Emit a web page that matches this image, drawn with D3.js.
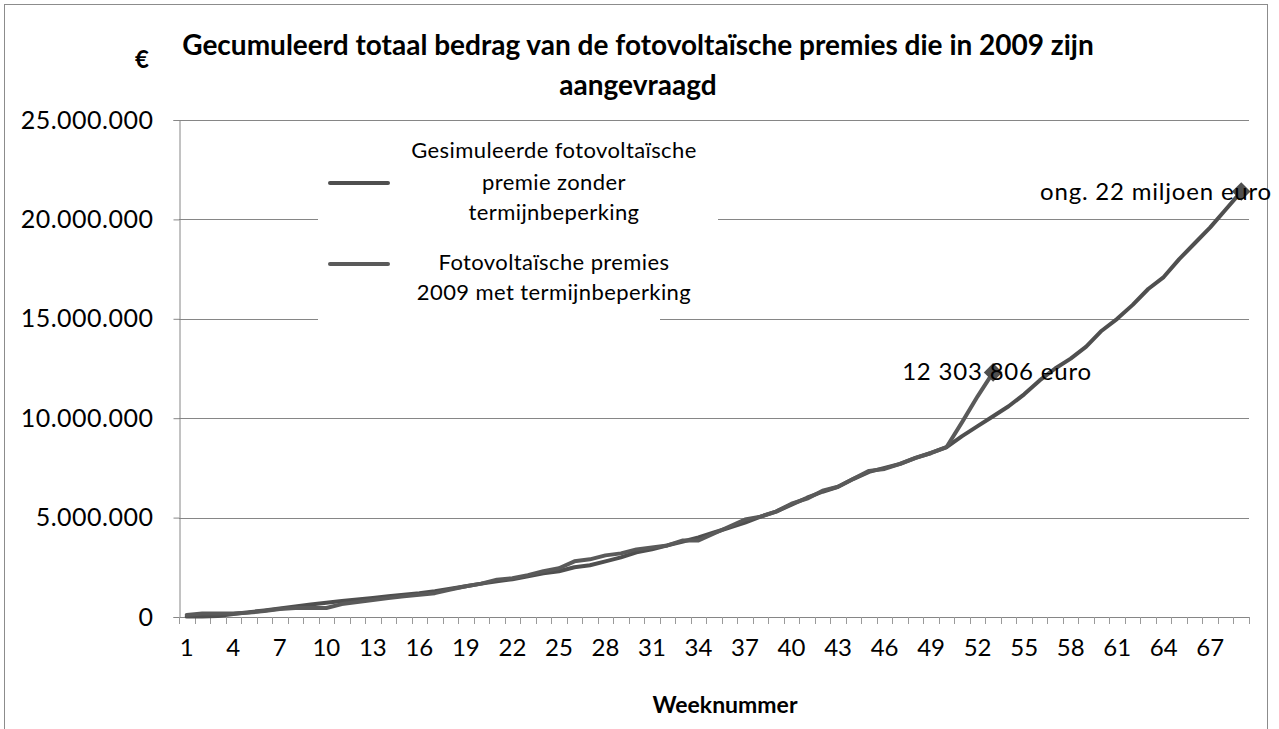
<!DOCTYPE html>
<html>
<head>
<meta charset="utf-8">
<script src="https://cdn.jsdelivr.net/npm/d3@7"></script>
<style>
  body { margin: 0; background: #fff; }
  svg text { font-family: Lato, "Open Sans", sans-serif; fill: #000; }
</style>
</head>
<body>
<svg id="chart" width="1279" height="729"></svg>
<script>
// Weeks (categories)
const weeks = [1, 2, 3, 4, 5, 6, 7, 8, 9, 10, 11, 12, 13, 14, 15, 16, 17, 18, 19, 20,
  21, 22, 23, 24, 25, 26, 27, 28, 29, 30, 31, 32, 33, 34, 35, 36, 37, 38, 39, 40,
  41, 42, 43, 44, 45, 46, 47, 48, 49, 50, 51, 52, 53, 54, 55, 56, 57, 58, 59, 60,
  61, 62, 63, 64, 65, 66, 67, 68, 69];

// Simulated premium without term limit (millions of euro)
const simulated = [0.02, 0.03, 0.05, 0.15, 0.24, 0.33, 0.43, 0.53, 0.63, 0.72,
  0.8, 0.88, 0.96, 1.04, 1.12, 1.2, 1.3, 1.42, 1.55, 1.68,
  1.8, 1.9, 2.05, 2.2, 2.3, 2.5, 2.6, 2.8, 3.0, 3.25,
  3.4, 3.6, 3.8, 4.0, 4.25, 4.5, 4.75, 5.05, 5.3, 5.65,
  6.0, 6.3, 6.55, 6.95, 7.3, 7.5, 7.7, 8.0, 8.25, 8.55,
  9.1, 9.6, 10.1, 10.6, 11.2, 11.9, 12.5, 13.0, 13.6, 14.4,
  15.0, 15.7, 16.5, 17.1, 18.0, 18.8, 19.6, 20.5, 21.4];

// 2009 premiums with term limit (millions of euro)
const actual = [0.1, 0.18, 0.18, 0.17, 0.22, 0.3, 0.4, 0.45, 0.45, 0.45,
  0.65, 0.75, 0.85, 0.95, 1.04, 1.12, 1.2, 1.38, 1.55, 1.68,
  1.88, 1.95, 2.1, 2.3, 2.45, 2.8, 2.9, 3.1, 3.2, 3.4,
  3.5, 3.6, 3.85, 3.85, 4.2, 4.55, 4.9, 5.05, 5.3, 5.7,
  5.95, 6.35, 6.55, 6.95, 7.35, 7.45, 7.7, 8.0, 8.25, 8.55,
  9.8, 11.1, 12.303806];

const yTicks = [0, 5, 10, 15, 20, 25];
const xLabels = [1, 4, 7, 10, 13, 16, 19, 22, 25, 28, 31, 34, 37, 40, 43, 46, 49, 52, 55, 58, 61, 64, 67];

const seriesNames = [
  ["Gesimuleerde fotovoltaïsche", "premie zonder", "termijnbeperking"],
  ["Fotovoltaïsche premies", "2009 met termijnbeperking"]
];
const endLabels = ["ong. 22 miljoen euro", "12 303 806 euro"];

const svg = d3.select("#chart");
const plotLeft = 179, plotRight = 1249, plotTop = 120, plotBottom = 617;

const x = d3.scaleBand().domain(weeks).range([plotLeft, plotRight]).padding(0);
const y = d3.scaleLinear().domain([0, 25]).range([plotBottom, plotTop]);
const cx = w => x(w) + x.bandwidth() / 2;

// outer border
svg.append("rect")
  .attr("x", 4.5).attr("y", 4.5)
  .attr("width", 1263).attr("height", 740)
  .attr("fill", "none").attr("stroke", "#8c8c8c");

// title
const title = svg.append("g").style("font-size", "28px").style("font-weight", "bold");
title.append("text")
  .attr("x", 638).attr("y", 55)
  .attr("text-anchor", "middle")
  .text("Gecumuleerd totaal bedrag van de fotovoltaïsche premies die in 2009 zijn");
title.append("text")
  .attr("x", 638).attr("y", 95)
  .attr("text-anchor", "middle")
  .text("aangevraagd");

// y unit
svg.append("text")
  .attr("x", 142).attr("y", 68)
  .attr("text-anchor", "middle")
  .style("font-size", "24px").style("font-weight", "bold")
  .text("€");

// gridlines
svg.append("g")
  .selectAll("line")
  .data(yTicks.filter(d => d > 0))
  .join("line")
  .attr("x1", plotLeft).attr("x2", plotRight)
  .attr("y1", d => Math.round(y(d)) + 0.5).attr("y2", d => Math.round(y(d)) + 0.5)
  .attr("stroke", "#868686");

// y axis
const fmt = d => d === 0 ? "0" : d3.format(",")(d * 1e6).replace(/,/g, ".");
const yAxis = svg.append("g")
  .attr("transform", `translate(${plotLeft + 0.5},0)`)
  .call(d3.axisLeft(y).tickValues(yTicks).tickSize(6).tickPadding(20).tickFormat(fmt));
yAxis.select(".domain").attr("stroke", "#868686");
yAxis.selectAll(".tick line").attr("stroke", "#868686");
yAxis.selectAll(".tick text")
  .style("font-size", "25px").style("letter-spacing", "0.5px")
  .style("font-family", "Lato, sans-serif");

// x axis baseline
svg.append("line")
  .attr("x1", plotLeft).attr("x2", plotRight)
  .attr("y1", plotBottom + 0.5).attr("y2", plotBottom + 0.5)
  .attr("stroke", "#868686");

// x tick marks at band edges
svg.append("g")
  .selectAll("line")
  .data(weeks.concat([weeks.length + 1]))
  .join("line")
  .attr("x1", (d, i) => Math.round(plotLeft + i * x.bandwidth()) + 0.5)
  .attr("x2", (d, i) => Math.round(plotLeft + i * x.bandwidth()) + 0.5)
  .attr("y1", plotBottom).attr("y2", plotBottom + 7)
  .attr("stroke", "#9a9a9a");

// x labels
svg.append("g")
  .selectAll("text")
  .data(xLabels)
  .join("text")
  .attr("x", d => cx(d))
  .attr("y", 656)
  .attr("text-anchor", "middle")
  .style("font-size", "24px")
  .text(d => d);

svg.append("text")
  .attr("x", 725).attr("y", 713)
  .attr("text-anchor", "middle")
  .style("font-size", "23px").style("font-weight", "bold")
  .text("Weeknummer");

// legend background (covers gridlines)
svg.append("rect").attr("x", 318).attr("y", 132).attr("width", 400).attr("height", 168).attr("fill", "#fff");
svg.append("rect").attr("x", 318).attr("y", 300).attr("width", 342).attr("height", 24).attr("fill", "#fff");

// lines
const line = d3.line().x((d, i) => cx(weeks[i])).y(d => y(d));
const colors = ["#4f4f4f", "#5a5a5a"];
[simulated, actual].forEach((s, k) => {
  svg.append("path")
    .datum(s)
    .attr("d", line)
    .attr("fill", "none")
    .attr("stroke", colors[k])
    .attr("stroke-width", 4)
    .attr("stroke-linejoin", "round")
    .attr("stroke-linecap", "round");
});

// end markers + labels
const ends = [
  { w: weeks[simulated.length - 1], v: simulated[simulated.length - 1], label: endLabels[0], anchor: "end", xPos: 1272 },
  { w: weeks[actual.length - 1], v: actual[actual.length - 1], label: endLabels[1], anchor: "middle", xPos: 997 }
];
ends.forEach(e => {
  svg.append("path")
    .attr("d", d3.symbol(d3.symbolDiamond2, 220)())
    .attr("transform", `translate(${cx(e.w)},${y(e.v)})`)
    .attr("fill", "#4f4f4f");
});
ends.forEach(e => {
  svg.append("text")
    .attr("x", e.xPos).attr("y", y(e.v) + 8)
    .attr("text-anchor", e.anchor)
    .style("font-size", "24px").style("letter-spacing", "0.8px")
    .text(e.label);
});

// legend entries
const legendY = [183, 264];
const legendTextY = [[158, 190, 220], [270, 300]];
seriesNames.forEach((lines, k) => {
  svg.append("line")
    .attr("x1", 330).attr("x2", 388)
    .attr("y1", legendY[k]).attr("y2", legendY[k])
    .attr("stroke", colors[k]).attr("stroke-width", 4).attr("stroke-linecap", "round");
  lines.forEach((t, j) => {
    svg.append("text")
      .attr("x", 554).attr("y", legendTextY[k][j])
      .attr("text-anchor", "middle")
      .style("font-size", "22px").style("letter-spacing", "0.4px")
      .text(t);
  });
});
</script>
</body>
</html>
